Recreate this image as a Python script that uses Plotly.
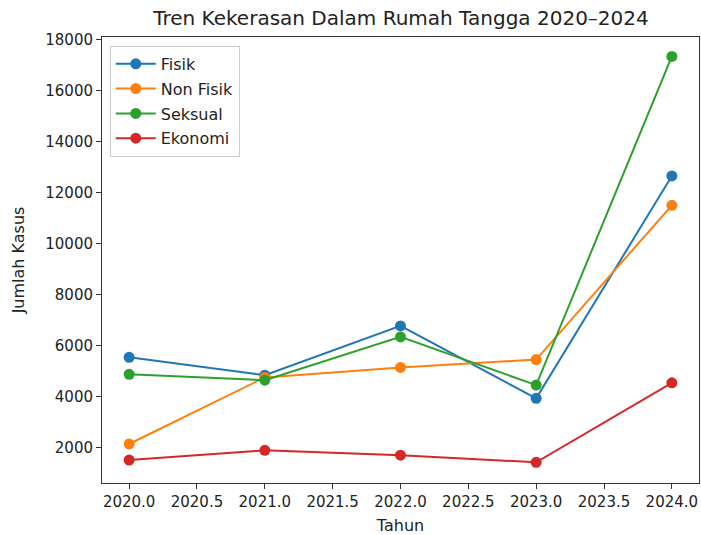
import plotly.graph_objects as go

years = [2020, 2021, 2022, 2023, 2024]
fisik = [5550, 4850, 6780, 3940, 12660]
non_fisik = [2150, 4760, 5150, 5460, 11510]
seksual = [4880, 4650, 6350, 4460, 17350]
ekonomi = [1520, 1900, 1710, 1430, 4550]

series = [
    ("Fisik", fisik, "#1f77b4"),
    ("Non Fisik", non_fisik, "#ff7f0e"),
    ("Seksual", seksual, "#2ca02c"),
    ("Ekonomi", ekonomi, "#d62728"),
]

x_ticks = [2020.0, 2020.5, 2021.0, 2021.5, 2022.0, 2022.5, 2023.0, 2023.5, 2024.0]
y_ticks = list(range(2000, 18001, 2000))

fig = go.Figure()
for name, vals, color in series:
    fig.add_trace(go.Scatter(
        x=years, y=vals, name=name, mode="lines+markers", legendgroup=name,
        line=dict(color=color, width=2),
        marker=dict(color=color, size=11),
    ))

font = "DejaVu Sans, Liberation Sans, sans-serif"
fig.update_layout(
    width=701, height=535,
    margin=dict(l=102, r=2, t=37, b=52),
    paper_bgcolor="white", plot_bgcolor="white",
    font=dict(family=font, size=15, color="#222"),
    title=dict(text="Tren Kekerasan Dalam Rumah Tangga 2020–2024",
               x=0.572, xanchor="center", y=0.966, yanchor="middle",
               font=dict(size=20, color="#222")),
    showlegend=True,
    legend=dict(x=0.013, y=0.98, xanchor="left", yanchor="top",
                bordercolor="#cccccc", borderwidth=1, bgcolor="rgba(255,255,255,0.8)",
                font=dict(size=16), tracegroupgap=1, itemwidth=40),
    xaxis=dict(range=[2019.8, 2024.2], tickvals=x_ticks,
               ticktext=[f"{v:.1f}" for v in x_ticks], automargin=False,
               showgrid=False, zeroline=False, showline=True, linecolor="#333",
               linewidth=1, mirror=True, ticks="outside", ticklen=5, tickcolor="#333",
               tickfont=dict(size=15),
               title=dict(text="Tahun", font=dict(size=16), standoff=9)),
    yaxis=dict(range=[620, 18110], tickvals=y_ticks,
               ticktext=[str(v) for v in y_ticks], automargin=False,
               showgrid=False, zeroline=False, showline=True, linecolor="#333",
               linewidth=1, mirror=True, ticks="outside", ticklen=5, tickcolor="#333",
               tickfont=dict(size=15),
               title=dict(text="Jumlah Kasus", font=dict(size=16), standoff=16)),
)

fig.write_html("out.html", config={"displayModeBar": False},
               post_script="document.body.style.margin='0';document.body.style.overflow='hidden';")
